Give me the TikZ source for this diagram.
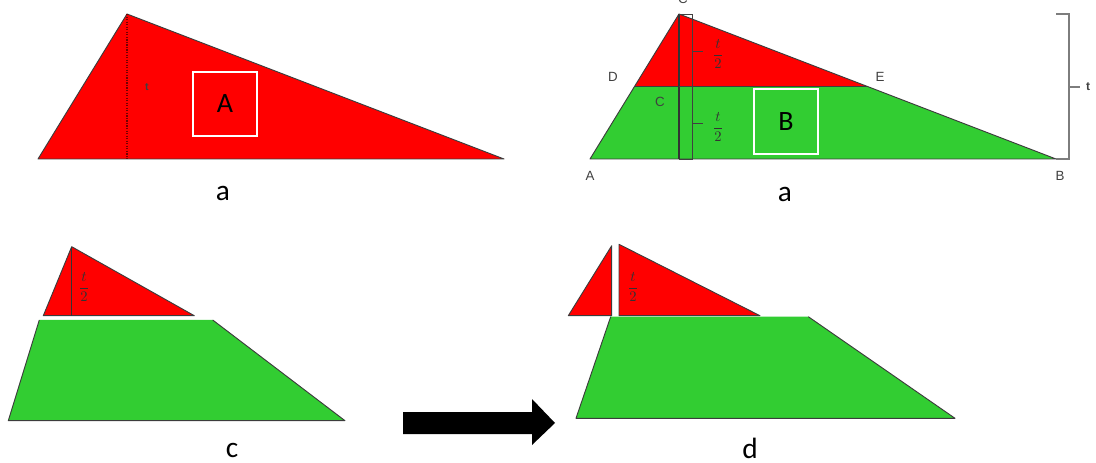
\documentclass[tikz,border=0pt]{standalone}
\usepackage{fontspec}
\setmainfont{Carlito}
\newfontfamily\helvfont{Liberation Sans}
\usetikzlibrary{calc}
\definecolor{trired}{RGB}{255,0,0}
\definecolor{trapgre}{RGB}{50,205,50}
\definecolor{edgegray}{RGB}{60,60,60}
\definecolor{markgray}{RGB}{125,125,125}

\begin{document}
\begin{tikzpicture}[x=0.75pt,y=-0.75pt,
    piece/.style={draw=edgegray,line width=0.7pt,line join=round},
    caption/.style={font=\fontsize{22}{22}\selectfont,inner sep=0pt},
    areabox/.style={draw=white,line width=1.3pt,minimum width=48.5pt,minimum height=48.5pt,font=\fontsize{21}{21}\selectfont},
    vertex/.style={font=\helvfont\fontsize{10}{10}\selectfont,text=black!75},
    half/.style={font=\fontsize{10.5}{10.5}\selectfont,text=black!80,inner sep=0pt}]
  \useasboundingbox (0,0) rectangle (1096,463);

  % panel a (left)
  \coordinate (lA) at (38,159);
  \coordinate (lC) at (127,14);
  \coordinate (lB) at (504,159);
  \filldraw[piece,fill=trired] (lA) -- (lC) -- (lB) -- cycle;
  \draw[densely dotted,red!45!black,line width=0.9pt] (lC) -- (lC |- lA);
  \node[vertex,font=\helvfont\bfseries\fontsize{8}{8}\selectfont] (ltt) at (147,87) {t};
  \node[areabox] (boxA) at (225,104) {A};
  \node[caption] (capa) at (223,193) {a};

  % panel a (right)
  \coordinate (A) at (590,159);
  \coordinate (C) at (679,14);
  \coordinate (B) at (1056,159);
  \coordinate (D) at ($(A)!0.5!(C)$);
  \coordinate (E) at ($(C)!0.5!(B)$);
  \filldraw[piece,fill=trapgre] (A) -- (B) -- (E) -- (D) -- cycle;
  \filldraw[piece,fill=trired] (D) -- (C) -- (E) -- cycle;
  \draw[line width=1.1pt,black!80] (C) -- (C |- A);
  \draw[line width=0.7pt,black!75] (C) -- ++(13,0) -- ++(0,145) -- ++(-13,0);
  \draw[line width=0.7pt,black!75] (692,51) -- (703,51) (692,123) -- (703,123) (692,86.5) -- (679,86.5);
  \node[half] (hup) at (718,54) {$\displaystyle\frac{t}{2}$};
  \node[half] (hdn) at (718,127) {$\displaystyle\frac{t}{2}$};
  \draw[line width=0.8pt,markgray] (1056,14) -- (1069,14) -- (1069,159) -- (1056,159);
  \draw[line width=0.8pt,markgray] (1069,87) -- (1080,87);
  \node[vertex,font=\helvfont\bfseries\fontsize{9}{9}\selectfont] (rtt) at (1088,87) {t};
  \node[vertex] (lblC) at (683,-1) {C};
  \node[vertex] (lblD) at (613,77) {D};
  \node[vertex] (lblE) at (880,77) {E};
  \node[vertex] (lblC2) at (660,102) {C};
  \node[vertex] (lblA) at (590,176) {A};
  \node[vertex] (lblB) at (1060,176) {B};
  \node[areabox] (boxB) at (786,121.5) {B};
  \node[caption] (capa2) at (785,194) {a};

  % panel c
  \filldraw[piece,fill=trired] (43.3,315.7) coordinate (cL) -- (71.7,246.7) coordinate (cT)
    -- (194.3,315.7) coordinate (cR) -- cycle;
  \draw[line width=0.8pt,black!80] (cT) -- (cT |- cL);
  \node[half] (hc) at (84,287) {$\displaystyle\frac{t}{2}$};
  \fill[trapgre] (39.3,320) -- (212.7,320) -- (345,420.7) -- (8.3,420.7) -- cycle;
  \draw[piece] (212.7,320) -- (345,420.7) -- (8.3,420.7) -- (39.3,320);
  \node[caption] (capc) at (232,450) {c};

  % arrow
  \fill[black] (403,412) -- (532,412) -- (532,399) -- (555,423) -- (532,445) -- (532,434) -- (403,434) -- cycle;

  % panel d
  \fill[trapgre] (610.7,316.7) -- (808.3,316.7) -- (955,418.3) -- (576,418.3) -- cycle;
  \draw[piece] (808.3,316.7) -- (955,418.3) -- (576,418.3) -- (610.7,316.7);
  \filldraw[piece,fill=trired] (568.3,315.7) -- (611.7,245.7) -- (611.7,315.7) -- cycle;
  \filldraw[piece,fill=trired] (619,244.3) -- (619,315.7) -- (760,315.7) -- cycle;
  \node[half] (hd) at (633,287) {$\displaystyle\frac{t}{2}$};
  \node[caption] (capd) at (750,448) {d};
\end{tikzpicture}
\end{document}
